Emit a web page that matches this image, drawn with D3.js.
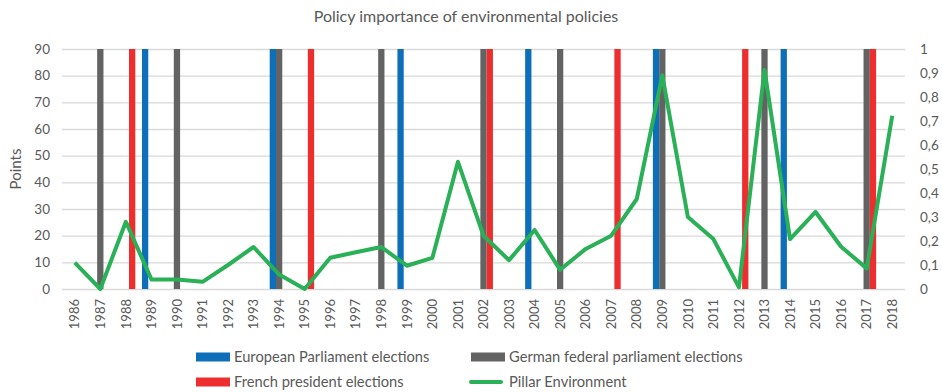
<!DOCTYPE html>
<html>
<head>
<meta charset="utf-8">
<script src="https://cdn.jsdelivr.net/npm/d3@7"></script>
<style>
  html, body { margin: 0; padding: 0; background: #fff; }
  svg { display: block; font-family: Lato, "Open Sans", sans-serif; }
</style>
</head>
<body>
<svg id="chart" width="942" height="392"></svg>
<script>
// Years shown on the category axis
const years = d3.range(1986, 2019);

// Election years by type (drawn as full-height columns)
const europeanElections = [1989, 1994, 1999, 2004, 2009, 2014];
const germanElections = [1987, 1990, 1994, 1998, 2002, 2005, 2009, 2013, 2017];
const frenchElections = [1988, 1995, 2002, 2007, 2012, 2017];
const electionValue = 90;

// Policy importance of the environment pillar (secondary axis, 0–1)
const pillarEnvironment = [
  0.11, 0.00, 0.28, 0.04, 0.04, 0.03, 0.10, 0.175, 0.06, 0.00,
  0.13, 0.153, 0.175, 0.097, 0.13, 0.53, 0.222, 0.12, 0.246, 0.08,
  0.167, 0.222, 0.375, 0.89, 0.30, 0.208, 0.007, 0.913, 0.208, 0.321,
  0.176, 0.086, 0.722
];

// Axis ticks
const leftTicks = d3.range(0, 91, 10);
const rightTicks = d3.range(0, 11).map(d => d / 10);

const series = [
  { name: "European Parliament elections", years: europeanElections, color: "#0d6fba" },
  { name: "German federal parliament elections", years: germanElections, color: "#636363" },
  { name: "French president elections", years: frenchElections, color: "#ee2e2e" }
];
const lineColor = "#2ab057";
const textColor = "#595959";
const gridColor = "#d9d9d9";

const svg = d3.select("#chart");
const m = { left: 62, right: 905, top: 49, bottom: 289 };

const x = d3.scaleBand().domain(years).range([m.left, m.right]).paddingInner(0).paddingOuter(0);
const x1 = d3.scaleBand().domain(series.map(s => s.name)).range([0, x.bandwidth()]).paddingInner(0).paddingOuter(0.53);
const yLeft = d3.scaleLinear().domain([0, 90]).range([m.bottom, m.top]);
const yRight = d3.scaleLinear().domain([0, 1]).range([m.bottom, m.top]);

const comma = d3.formatLocale({ decimal: ",", thousands: ".", grouping: [3], currency: ["", "€"] });
const fmtRight = comma.format(".1~f");

// Title
svg.append("text")
  .attr("x", 466).attr("y", 22)
  .attr("text-anchor", "middle")
  .attr("fill", textColor)
  .style("font-size", "16px")
  .text("Policy importance of environmental policies");

// Horizontal gridlines
svg.append("g").selectAll("line").data(leftTicks).join("line")
  .attr("x1", m.left).attr("x2", m.right)
  .attr("y1", d => yLeft(d) + 0.5).attr("y2", d => yLeft(d) + 0.5)
  .attr("stroke", gridColor).attr("stroke-width", 1.3);

// Left axis
const gLeft = svg.append("g").attr("transform", `translate(${m.left},0)`)
  .call(d3.axisLeft(yLeft).tickValues(leftTicks).tickSize(0).tickPadding(12));
gLeft.select(".domain").remove();
gLeft.selectAll("text").attr("fill", textColor).style("font-size", "13.5px").style("font-family", "Lato, sans-serif");

// Right axis
const gRight = svg.append("g").attr("transform", `translate(${m.right},0)`)
  .call(d3.axisRight(yRight).tickValues(rightTicks).tickSize(0).tickPadding(15).tickFormat(fmtRight));
gRight.select(".domain").remove();
gRight.selectAll("text").attr("fill", textColor).style("font-size", "13.5px").style("font-family", "Lato, sans-serif");

// Bottom axis with rotated year labels
const gBottom = svg.append("g").attr("transform", `translate(0,${m.bottom})`)
  .call(d3.axisBottom(x).tickSize(0).tickPadding(0));
gBottom.select(".domain").remove();
gBottom.selectAll("text")
  .attr("fill", textColor)
  .style("font-size", "13px").style("font-family", "Lato, sans-serif")
  .attr("text-anchor", "end")
  .attr("transform", "translate(0,10) rotate(-90)")
  .attr("x", 0).attr("y", 0).attr("dy", "0.36em");

// Y title
svg.append("text")
  .attr("transform", "translate(21,169) rotate(-90)")
  .attr("text-anchor", "middle")
  .attr("fill", textColor)
  .style("font-size", "15px")
  .text("Points");

// Election columns
const gBars = svg.append("g");
series.forEach(s => {
  gBars.selectAll(null).data(s.years).join("rect")
    .attr("x", d => x(d) + x1(s.name))
    .attr("width", x1.bandwidth())
    .attr("y", yLeft(electionValue))
    .attr("height", yLeft(0) - yLeft(electionValue))
    .attr("fill", s.color);
});

// Environment pillar line
const line = d3.line()
  .x((d, i) => x(years[i]) + x.bandwidth() / 2)
  .y(d => yRight(d));
svg.append("path")
  .datum(pillarEnvironment)
  .attr("d", line)
  .attr("fill", "none")
  .attr("stroke", lineColor)
  .attr("stroke-width", 4)
  .attr("stroke-linejoin", "round");

// Legend
const legendItems = [
  { name: series[0].name, color: series[0].color, type: "rect", x: 196, y: 357 },
  { name: series[1].name, color: series[1].color, type: "rect", x: 471, y: 357 },
  { name: series[2].name, color: series[2].color, type: "rect", x: 196, y: 382 },
  { name: "Pillar Environment", color: lineColor, type: "line", x: 471, y: 382 }
];
const gLegend = svg.append("g");
legendItems.forEach(it => {
  if (it.type === "rect") {
    gLegend.append("rect")
      .attr("x", it.x).attr("y", it.y - 4.5)
      .attr("width", 34).attr("height", 9)
      .attr("fill", it.color);
  } else {
    gLegend.append("line")
      .attr("x1", it.x).attr("x2", it.x + 30)
      .attr("y1", it.y).attr("y2", it.y)
      .attr("stroke", it.color).attr("stroke-width", 4)
      .attr("stroke-linecap", "round");
  }
  gLegend.append("text")
    .attr("x", it.x + 38).attr("y", it.y).attr("dy", "0.35em")
    .attr("fill", textColor)
    .style("font-size", "14.7px")
    .text(it.name);
});
</script>
</body>
</html>
